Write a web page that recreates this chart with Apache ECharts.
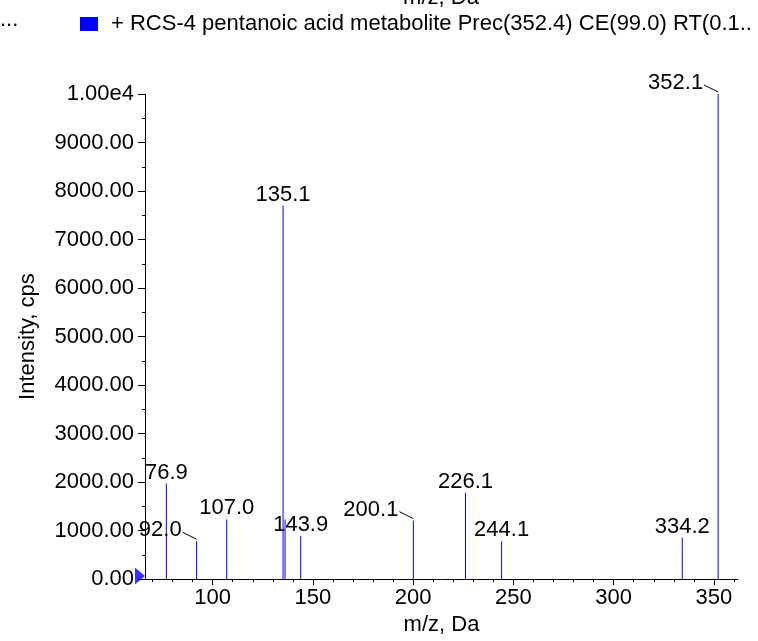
<!DOCTYPE html>
<html>
<head>
<meta charset="utf-8">
<script src="https://cdn.jsdelivr.net/npm/echarts@6/dist/echarts.min.js"></script>
<style>
  html, body { margin: 0; padding: 0; background: #fff; }
  #chart { width: 758px; height: 641px; }
</style>
</head>
<body>
<div id="chart"></div>
<script>
// ---- data ----
const seriesName = '+ RCS-4 pentanoic acid metabolite Prec(352.4) CE(99.0) RT(0.1..';
const mz = [76.9, 92.0, 107.0, 135.1, 136.1, 143.9, 200.1, 226.1, 244.1, 334.2, 352.1];
const intensity = [1970, 780, 1230, 7700, 1230, 885, 1205, 1780, 780, 855, 10000];
const peakLabels = ['76.9', '92.0', '107.0', '135.1', '', '143.9', '200.1', '226.1', '244.1', '334.2', '352.1'];
const leaderLabels = ['92.0', '200.1', '352.1'];
const xMajorTicks = [100, 150, 200, 250, 300, 350];
const xMinorTicks = [70, 80, 90, 100, 110, 120, 130, 140, 150, 160, 170, 180, 190, 200, 210, 220, 230, 240, 250, 260, 270, 280, 290, 300, 310, 320, 330, 340, 350, 360];
const xRange = [66.25, 362];
const yRange = [0, 10000];

const FONT = 'Liberation Sans, Arial, sans-serif';
const FS = 22;

const peakData = mz.map((m, i) => [m, intensity[i]]);

const chart = echarts.init(document.getElementById('chart'), null, { renderer: 'canvas' });

function renderPeak(params, api) {
  const idx = params.dataIndex;
  const x = api.value(0), y = api.value(1);
  const base = api.coord([x, 0]);
  const top = api.coord([x, y]);
  const px = top[0];
  const children = [{
    type: 'line',
    shape: { x1: px, y1: base[1], x2: px, y2: top[1] },
    style: { stroke: '#0000ff', lineWidth: 1 }
  }];
  const label = peakLabels[idx];
  if (label) {
    if (leaderLabels.indexOf(label) >= 0) {
      children.push({
        type: 'text',
        style: { text: label, x: px - 15, y: top[1] - 11, align: 'right', verticalAlign: 'middle',
                 font: FS + 'px ' + FONT, fill: '#000' }
      });
      children.push({
        type: 'line',
        shape: { x1: px - 14, y1: top[1] - 9, x2: px, y2: top[1] - 2 },
        style: { stroke: '#000', lineWidth: 1 }
      });
    } else {
      children.push({
        type: 'text',
        style: { text: label, x: px, y: top[1], align: 'center', verticalAlign: 'bottom',
                 font: FS + 'px ' + FONT, fill: '#000' }
      });
    }
  }
  return { type: 'group', children: children };
}

const option = {
  animation: false,
  backgroundColor: '#fff',
  color: ['#0000ff'],
  textStyle: { fontFamily: FONT },
  grid: { left: 145, right: 20, top: 94, bottom: 57, containLabel: false },
  legend: {
    data: [seriesName],
    left: 75, top: 8,
    icon: 'rect', itemWidth: 18, itemHeight: 14,
    textStyle: { fontSize: FS, color: '#000', fontFamily: FONT, padding: [0, 0, 0, 8] },
    selectedMode: false
  },
  graphic: [
    { type: 'text', x: 441, y: 9, style: { text: 'm/z, Da', align: 'center', verticalAlign: 'bottom', font: FS + 'px ' + FONT, fill: '#000' } },
    { type: 'text', x: 0, y: 20, style: { text: '...', align: 'left', verticalAlign: 'middle', font: FS + 'px ' + FONT, fill: '#000' } }
  ],
  xAxis: [{
    type: 'value', min: xRange[0], max: xRange[1], position: 'bottom',
    name: 'm/z, Da', nameLocation: 'middle', nameGap: 30,
    nameTextStyle: { fontSize: FS, color: '#000', fontFamily: FONT },
    axisLine: { show: true, onZero: false, lineStyle: { color: '#000', width: 1 } },
    axisTick: { show: true, length: 6, customValues: xMajorTicks, lineStyle: { color: '#000' } },
    axisLabel: { show: true, customValues: xMajorTicks, fontSize: FS, color: '#000', margin: 8, fontFamily: FONT },
    splitLine: { show: false }
  }, {
    type: 'value', min: xRange[0], max: xRange[1], position: 'bottom', gridIndex: 0,
    axisLine: { show: false, onZero: false },
    axisTick: { show: true, length: 3, customValues: xMinorTicks, lineStyle: { color: '#000' } },
    axisLabel: { show: false },
    splitLine: { show: false }
  }],
  yAxis: {
    type: 'value', min: yRange[0], max: yRange[1], interval: 1000,
    name: 'Intensity, cps', nameLocation: 'middle', nameGap: 106, nameRotate: 90,
    nameTextStyle: { fontSize: FS, color: '#000', fontFamily: FONT },
    axisLine: { show: true, lineStyle: { color: '#000', width: 1 } },
    axisTick: { show: true, length: 7, lineStyle: { color: '#000' } },
    minorTick: { show: true, splitNumber: 2, length: 3, lineStyle: { color: '#000' } },
    axisLabel: {
      fontSize: FS, color: '#000', margin: 11, fontFamily: FONT,
      formatter: function (v) { return v === 10000 ? '1.00e4' : v.toFixed(2); }
    },
    splitLine: { show: false },
    minorSplitLine: { show: false }
  },
  series: [{
    name: seriesName,
    type: 'custom',
    xAxisIndex: 0,
    renderItem: renderPeak,
    encode: { x: 0, y: 1 },
    data: peakData,
    clip: false,
    z: 3
  }, {
    name: 'origin',
    type: 'scatter',
    xAxisIndex: 0,
    data: [[xRange[0], 0]],
    symbol: 'triangle',
    symbolRotate: -90,
    symbolSize: [17, 10],
    symbolOffset: [-5, -3],
    itemStyle: { color: '#0000ff' },
    clip: false,
    silent: true,
    z: 5
  }]
};

chart.setOption(option);
</script>
</body>
</html>
